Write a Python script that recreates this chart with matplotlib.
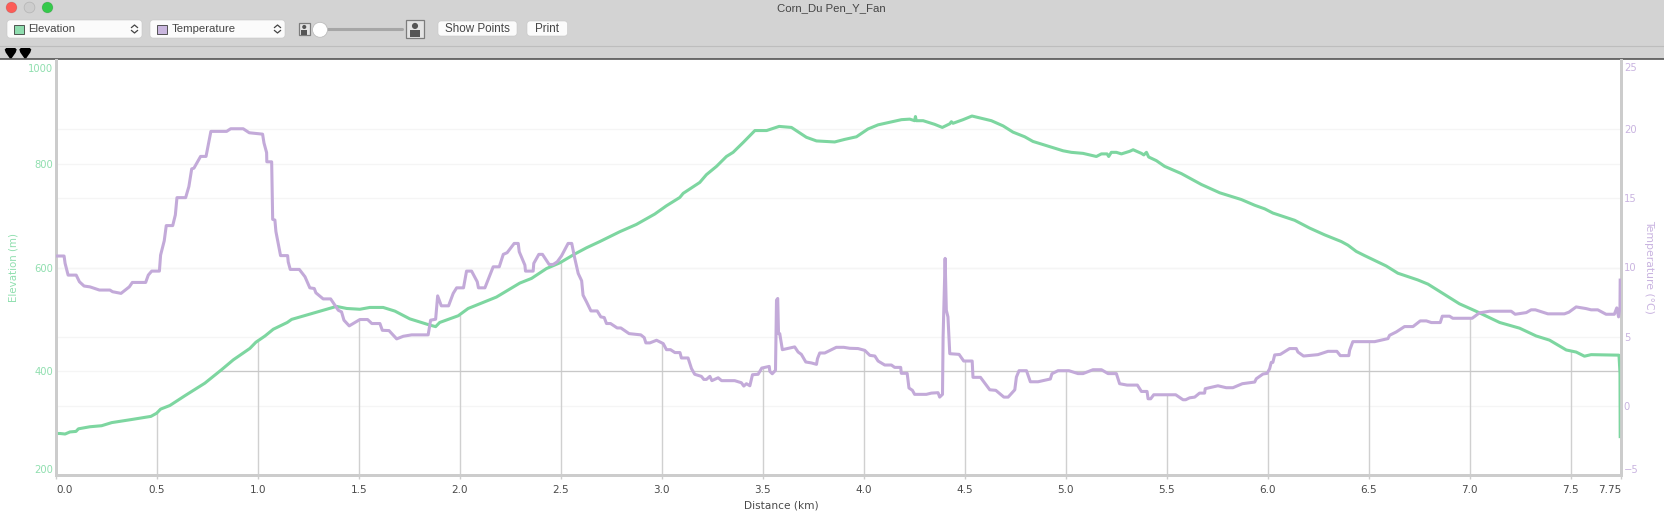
import matplotlib
matplotlib.use("Agg")
import matplotlib.pyplot as plt
import matplotlib.patches as mp
from matplotlib.transforms import ScaledTranslation
import numpy as np

# Elevation profile
elev_dist = [0, .02, .045, .069, .099, .111, .168, .226, .276, .375, .47, .498, .518, .564, .639, .68, .737,
             .82, .878, .96, .99, 1.035, 1.076, 1.145, 1.167, 1.274, 1.389, 1.44, 1.505, 1.554, 1.62, 1.678,
             1.752, 1.851, 1.88, 1.9, 1.992, 2.041, 2.181, 2.297, 2.355, 2.429, 2.495, 2.569, 2.627, 2.693,
             2.792, 2.874, 2.965, 3.023, 3.089, 3.106, 3.188, 3.221, 3.271, 3.32, 3.353, 3.403, 3.461, 3.519,
             3.581, 3.642, 3.716, 3.766, 3.856, 3.906, 3.964, 4.021, 4.071, 4.129, 4.187, 4.228, 4.252, 4.256,
             4.26, 4.294, 4.351, 4.389, 4.426, 4.434, 4.442, 4.492, 4.536, 4.632, 4.69, 4.739, 4.797, 4.838,
             4.912, 4.987, 5.028, 5.086, 5.152, 5.177, 5.205, 5.213, 5.226, 5.251, 5.276, 5.317, 5.334, 5.375,
             5.387, 5.4, 5.411, 5.449, 5.49, 5.573, 5.672, 5.763, 5.87, 5.936, 5.986, 6.026, 6.134, 6.208,
             6.282, 6.365, 6.398, 6.439, 6.48, 6.587, 6.645, 6.744, 6.794, 6.884, 6.95, 7.025, 7.149, 7.248,
             7.33, 7.396, 7.479, 7.528, 7.569, 7.602, 7.74, 7.745, 7.746]
elev_vals = [280, 280, 279, 283, 284, 289, 293, 295, 301, 307, 313, 319, 327, 334, 353, 363, 377,
             403, 422, 444, 456, 468, 481, 494, 500, 512, 525, 521, 519.5, 523, 523, 516,
             501, 489, 486, 494, 507, 521, 543, 570, 579, 598, 609, 626, 638, 650,
             669, 683, 703, 719, 735, 743, 764, 779, 795, 814, 822, 841, 864, 864,
             872, 870, 851, 844, 842, 847, 852, 867, 875, 880, 885, 886, 883, 891,
             883, 883, 876, 870, 877, 881, 878, 885, 892, 883, 873, 861, 852, 843,
             834, 825, 822, 820, 814, 819, 819, 814, 822, 822, 819, 824, 827, 820,
             817, 822, 813, 806, 795, 781, 760, 744, 731, 720, 713, 705, 691, 676,
             663, 650, 643, 631, 623, 603, 589, 576, 568, 546, 530, 517, 494, 483,
             468, 460, 441, 437, 429, 432, 431, 396, 274]

# Temperature profile
temp_dist = [0, .04, .045, .06, .10, .116, .139, .168, .215, .267, .28, .322, .363, .378, .444, .457, .474,
             .512, .518, .536, .546, .578, .591, .599, .642, .658, .672, .683, .716, .743, .767, .845, .865,
             .927, .957, 1.023, 1.03, 1.043, 1.044, 1.068, 1.073, 1.084, 1.089, 1.112, 1.147, 1.15, 1.16,
             1.205, 1.233, 1.257, 1.279, 1.287, 1.323, 1.36, 1.398, 1.414, 1.426, 1.452, 1.505, 1.543, 1.564,
             1.604, 1.616, 1.649, 1.687, 1.72, 1.761, 1.843, 1.855, 1.88, 1.89, 1.908, 1.944, 1.967, 1.984,
             2.018, 2.033, 2.058, 2.086, 2.092, 2.124, 2.165, 2.195, 2.215, 2.234, 2.269, 2.289, 2.294, 2.322,
             2.325, 2.363, 2.366, 2.391, 2.409, 2.442, 2.462, 2.482, 2.503, 2.536, 2.554, 2.569, 2.586, 2.603,
             2.61, 2.627, 2.649, 2.68, 2.698, 2.715, 2.726, 2.746, 2.779, 2.797, 2.838, 2.896, 2.913, 2.921,
             2.941, 2.974, 3.007, 3.023, 3.043, 3.065, 3.09, 3.097, 3.13, 3.147, 3.163, 3.196, 3.208, 3.221,
             3.238, 3.248, 3.279, 3.296, 3.361, 3.394, 3.406, 3.419, 3.436, 3.449, 3.477, 3.495, 3.532, 3.535,
             3.547, 3.563, 3.568, 3.574, 3.578, 3.584, 3.597, 3.658, 3.675, 3.691, 3.713, 3.741, 3.766, 3.771,
             3.782, 3.807, 3.864, 3.901, 3.931, 3.972, 4.005, 4.03, 4.055, 4.071, 4.104, 4.137, 4.153, 4.183,
             4.186, 4.215, 4.224, 4.241, 4.252, 4.31, 4.335, 4.368, 4.376, 4.39, 4.393, 4.403, 4.409, 4.417,
             4.426, 4.472, 4.495, 4.537, 4.541, 4.578, 4.624, 4.654, 4.694, 4.715, 4.748, 4.756, 4.769, 4.806,
             4.825, 4.863, 4.924, 4.932, 4.962, 5.016, 5.061, 5.086, 5.135, 5.177, 5.21, 5.251, 5.267, 5.304,
             5.355, 5.375, 5.403, 5.408, 5.421, 5.436, 5.545, 5.581, 5.594, 5.614, 5.639, 5.663, 5.688, 5.691,
             5.754, 5.795, 5.828, 5.875, 5.936, 5.944, 5.977, 5.998, 6.01, 6.018, 6.026, 6.035, 6.063, 6.109,
             6.142, 6.15, 6.178, 6.249, 6.299, 6.343, 6.36, 6.402, 6.406, 6.422, 6.53, 6.596, 6.604, 6.637,
             6.678, 6.72, 6.756, 6.786, 6.811, 6.855, 6.865, 6.901, 6.917, 7.013, 7.049, 7.099, 7.206, 7.226,
             7.281, 7.305, 7.326, 7.388, 7.47, 7.492, 7.528, 7.577, 7.602, 7.635, 7.676, 7.717, 7.729, 7.738,
             7.745, 7.746]
temp_vals = [10.83, 10.83, 10.3, 9.45, 9.45, 8.97, 8.66, 8.6, 8.37, 8.37, 8.25, 8.13, 8.6, 8.92, 8.92, 9.45, 9.74,
             9.74, 10.9, 11.93, 13.03, 13.03, 13.8, 15.05, 15.05, 15.85, 17.13, 17.18, 18.03, 18.03, 19.84, 19.84, 20.03,
             20.03, 19.74, 19.64, 19.0, 18.3, 17.64, 17.64, 13.48, 13.43, 12.6, 10.86, 10.86, 10.4, 9.86,
             9.86, 9.33, 8.53, 8.48, 8.17, 7.73, 7.73, 6.91, 6.79, 6.19, 5.78, 6.24, 6.24, 5.95,
             5.95, 5.46, 5.44, 4.84, 5.03, 5.13, 5.13, 6.19, 6.26, 7.95, 7.23, 7.23, 8.13, 8.53,
             8.53, 9.74, 9.74, 8.97, 8.53, 8.53, 10.05, 10.05, 10.95, 11.07, 11.74, 11.74, 11.14, 10.17,
             9.74, 9.74, 10.3, 10.95, 10.95, 10.22, 10.22, 10.41, 10.83, 11.74, 11.74, 10.66, 9.57, 9.04,
             8.0, 7.52, 6.86, 6.86, 6.43, 6.38, 5.95, 5.95, 5.63, 5.63, 5.22, 5.13, 4.93, 4.55,
             4.55, 4.74, 4.5, 4.06, 4.06, 3.85, 3.85, 3.46, 3.46, 2.69, 2.28, 2.13, 1.91, 1.91,
             2.13, 1.82, 2.03, 1.82, 1.82, 1.67, 1.43, 1.6, 1.45, 2.25, 2.28, 2.73, 2.85, 2.49,
             2.32, 2.57, 7.64, 7.76, 5.22, 5.22, 4.06, 4.26, 3.89, 3.72, 3.17, 3.1, 3.0, 3.41,
             3.82, 3.82, 4.23, 4.23, 4.16, 4.14, 4.01, 3.65, 3.6, 3.24, 2.95, 2.95, 2.78, 2.78,
             2.35, 2.35, 1.29, 1.12, .83, .83, .92, .95, .63, .83, 4.98, 10.66, 6.91, 6.43,
             3.77, 3.72, 3.24, 3.24, 2.06, 2.06, 1.16, 1.12, .63, .63, 1.16, 2.08, 2.54, 2.54,
             1.74, 1.74, 1.94, 2.32, 2.54, 2.54, 2.33, 2.33, 2.61, 2.61, 2.33, 2.33, 1.6, 1.5,
             1.5, 1.04, 1.04, .51, .51, .8, .8, .44, .44, .58, .63, .92, .92, 1.24,
             1.45, 1.31, 1.31, 1.6, 1.72, 1.96, 2.3, 2.35, 2.69, 3.14, 3.14, 3.68, 3.72, 4.14,
             4.14, 3.89, 3.6, 3.7, 3.94, 3.94, 3.63, 3.63, 4.01, 4.64, 4.64, 4.86, 5.1, 5.34,
             5.73, 5.73, 6.14, 6.14, 6.02, 6.02, 6.48, 6.48, 6.33, 6.33, 6.72, 6.84, 6.84, 6.62,
             6.74, 6.94, 6.94, 6.65, 6.65, 6.77, 7.15, 7.03, 6.94, 6.94, 6.62, 6.62, 7.08, 6.43,
             7.15, 9.09]

x_ticks = [0.0, 0.5, 1.0, 1.5, 2.0, 2.5, 3.0, 3.5, 4.0, 4.5, 5.0, 5.5, 6.0, 6.5, 7.0, 7.5, 7.75]
x_labels = ["0.0", "0.5", "1.0", "1.5", "2.0", "2.5", "3.0", "3.5", "4.0", "4.5", "5.0", "5.5", "6.0", "6.5", "7.0", "7.5", "7.75"]
elev_ticks = [200, 400, 600, 800, 1000]
temp_ticks = [-5, 0, 5, 10, 15, 20, 25]

GREEN = "#7dd6a0"
PURPLE = "#c3aad9"
GREEN_TXT = "#90dfaf"
PURPLE_TXT = "#c9b4e0"
AXIS = "#cccccc"
GRID = "#f5f5f5"
W, H = 1664, 517
UI = "Liberation Sans"
UI_TXT = "#454545"

fig = plt.figure(figsize=(W / 100, H / 100), dpi=100, facecolor="white")

# window chrome, drawn in pixel coordinates
ui = fig.add_axes([0, 0, 1, 1])
ui.set_xlim(0, W); ui.set_ylim(H, 0); ui.axis("off")
ui.add_patch(mp.Rectangle((0, 0), W, 59, fc="#d3d3d3", ec="none"))
ui.imshow(np.linspace(0.925, 0.828, 20)[:, None], cmap="gray", vmin=0, vmax=1, aspect="auto", extent=(0, W, 17, 0))
ui.set_xlim(0, W); ui.set_ylim(H, 0)
ui.plot([0, W], [45.5, 45.5], color="#bdbdbd", lw=0.8)
ui.plot([0, W], [59.3, 59.3], color="#484848", lw=1.1)

for cx, col in [(11.5, "#fc5c57"), (29.5, "#cdcdcd"), (47.5, "#35c94b")]:
    ui.add_patch(mp.Circle((cx, 7.5), 5.4, fc=col, ec="#00000022", lw=0.5))
ui.text(831, 8.5, "Corn_Du Pen_Y_Fan", family=UI, fontsize=8.2, color=UI_TXT, ha="center", va="center")


def rbox(x0, y0, w, h, fc="#fbfbfb"):
    ui.add_patch(mp.FancyBboxPatch((x0 + 3, y0 + 3), w - 6, h - 6, boxstyle="round,pad=3", fc=fc, ec="#c6c6c6", lw=0.4))


for x0, name, col in [(7, "Elevation", "#8edcae"), (150, "Temperature", "#c9b6de")]:
    rbox(x0, 20, 135, 18)
    ui.add_patch(mp.Rectangle((x0 + 7, 25), 10, 9, fc=col, ec="#3c3c3c", lw=0.6))
    ui.text(x0 + 21.5, 29.5, name, family=UI, fontsize=8.2, color=UI_TXT, va="center")
    ui.plot([x0 + 124.5, x0 + 127.5, x0 + 130.5], [27.5, 25, 27.5], color="#444444", lw=0.9)
    ui.plot([x0 + 124.5, x0 + 127.5, x0 + 130.5], [30.5, 33, 30.5], color="#444444", lw=0.9)

# slider with its two icons
for x0, y0, w, h in [(298.5, 23, 11.5, 12), (406, 20, 18, 18)]:
    ui.add_patch(mp.Rectangle((x0, y0), w, h, fc="#e4e4e4", ec="#7c7c7c", lw=0.9))
    ui.add_patch(mp.Circle((x0 + w / 2, y0 + h * 0.33), h * 0.17, fc="#555555", ec="none"))
    ui.add_patch(mp.Rectangle((x0 + w * 0.22, y0 + h * 0.55), w * 0.56, h * 0.42, fc="#555555", ec="none"))
ui.plot([325, 402], [29.3, 29.3], color="#a6a6a6", lw=2.2, solid_capstyle="round")
ui.add_patch(mp.Circle((320, 29.8), 7.5, fc="white", ec="#bdbdbd", lw=0.6, zorder=3))

for x0, w, name in [(438, 79, "Show Points"), (527, 40.5, "Print")]:
    rbox(x0, 21, w, 15)
    ui.text(x0 + w / 2, 28.5, name, family=UI, fontsize=8.4, color=UI_TXT, ha="center", va="center")

for cx in [10.7, 25.3]:
    ui.add_patch(mp.Polygon([(cx - 6, 49.5), (cx - 4.5, 48), (cx + 4.5, 48), (cx + 6, 49.5), (cx + 5, 52.5), (cx + 0.8, 58.5), (cx - 0.8, 58.5), (cx - 5, 52.5)], fc="black", ec="none"))

# chart axes
x0, x1, y0, y1 = 56, 1621, 60, 475
rect = [x0 / W, 1 - y1 / H, (x1 - x0) / W, (y1 - y0) / H]
ax = fig.add_axes(rect, facecolor="none")
ax2 = ax.twinx()
ax.set_xlim(0, 7.75); ax.set_ylim(200, 1000)
ax2.set_ylim(-5, 25)

ax.set_yticks(elev_ticks)
ax2.set_yticks(temp_ticks)
ax.set_xticks(x_ticks, x_labels)


def t_to_elev(t):
    return 200 + (np.asarray(t, dtype=float) + 5) * 800 / 30


# both grids go on the lower axes so they stay behind the curves
ax.hlines(elev_ticks[1:-1], 0, 7.75, color=GRID, lw=1.0, zorder=1)
ax.hlines(t_to_elev(temp_ticks[1:-1]), 0, 7.75, color=GRID, lw=1.0, zorder=1)

# drop lines reach the lower of the two curves, 400 m line starts where the profile crosses it
drop_x = [t for t in x_ticks if 0 < t < 7.75]
drop_top = [min(np.interp(t, elev_dist, elev_vals), np.interp(t, temp_dist, t_to_elev(temp_vals))) for t in drop_x]
ax.vlines(drop_x, 200, drop_top, color="#d0d0d0", lw=1.0, zorder=2)
ax.hlines(400, np.interp(400, elev_vals[:20], elev_dist[:20]), 7.75, color="#c8c8c8", lw=0.9, zorder=2)

ax.plot(elev_dist, elev_vals, color=GREEN, lw=2.2, solid_joinstyle="round", zorder=4)
ax2.plot(temp_dist, temp_vals, color=PURPLE, lw=2.2, solid_joinstyle="round", zorder=5)

for a in (ax, ax2):
    a.spines["top"].set_visible(False)
    for s in ("left", "right", "bottom"):
        a.spines[s].set_color(AXIS)
        a.spines[s].set_linewidth(2.0)

ax.tick_params(axis="x", length=3, width=1, color=AXIS, labelsize=7.5, labelcolor="#4a4a4a", pad=4)
ax.tick_params(axis="y", length=0, labelsize=7.2, labelcolor=GREEN_TXT, pad=2)
ax2.tick_params(axis="y", length=0, labelsize=7.2, labelcolor=PURPLE_TXT, pad=2)

# end labels are pulled inside the plot height, first and last x labels too
xl = ax.get_xticklabels()
xl[0].set_ha("left"); xl[-1].set_ha("right")
for lab, dy in [(ax.get_yticklabels()[0], 6), (ax.get_yticklabels()[-1], -8),
                (ax2.get_yticklabels()[0], 6), (ax2.get_yticklabels()[-1], -7)]:
    lab.set_transform(lab.get_transform() + ScaledTranslation(0, dy / 100, fig.dpi_scale_trans))

fig.text(781 / W, 1 - 505 / H, "Distance (km)", fontsize=7.6, color="#4a4a4a", ha="center", va="center")
fig.text(13.5 / W, 1 - 268 / H, "Elevation (m)", fontsize=7.4, color=GREEN_TXT, rotation=90, ha="center", va="center")
fig.text(1649 / W, 1 - 267 / H, "Temperature (°C)", fontsize=7.8, color=PURPLE_TXT, rotation=-90, ha="center", va="center")

fig.savefig("out.png", dpi=100)
